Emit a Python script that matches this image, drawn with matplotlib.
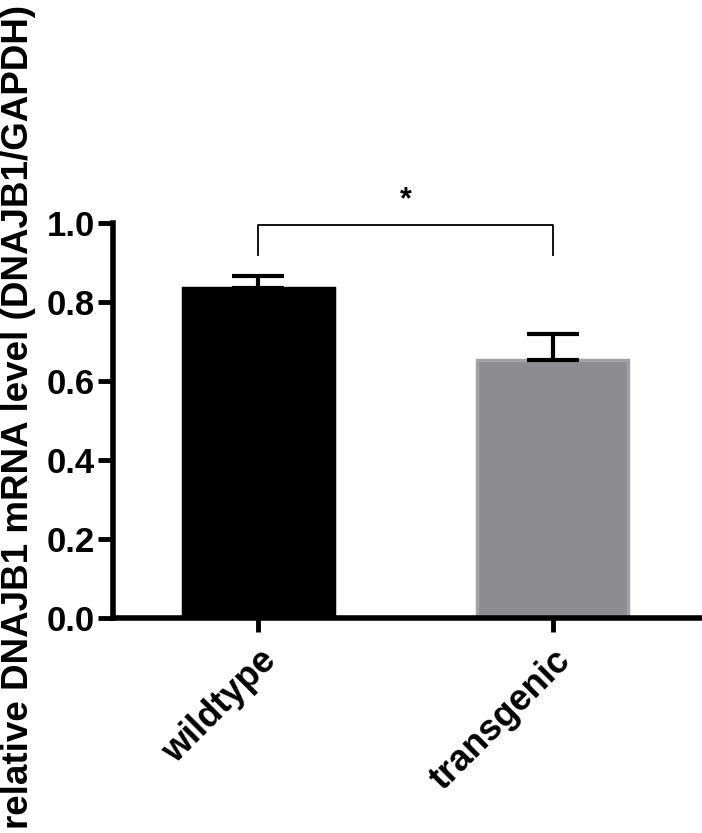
import matplotlib
matplotlib.use("Agg")
from matplotlib import pyplot as plt

# data
groups = ["wildtype", "transgenic"]
means = [0.835, 0.652]
errors = [0.032, 0.068]
colors = ["#000000", "#8d8d91"]
edges = ["#000000", "#a2a2a4"]

plt.rcParams["font.family"] = ["Liberation Sans", "DejaVu Sans"]
plt.rcParams["font.weight"] = "bold"

fig = plt.figure(figsize=(7.02, 8.33), dpi=100)
ax = fig.add_axes([0.161, 0.2581, 0.836, 0.4742])

x = range(len(groups))
ax.bar(x, means, width=0.513, color=colors, edgecolor=edges, linewidth=2.5, zorder=2)
for i in x:
    ax.errorbar(i, means[i], yerr=[[0], [errors[i]]], fmt="none", ecolor="black",
                elinewidth=3, capsize=19, capthick=3, zorder=3)

ax.set_xlim(-0.494, 1.499)
ax.set_ylim(0, 1.0)
ax.set_yticks([0.0, 0.2, 0.4, 0.6, 0.8, 1.0])
ax.set_yticklabels(["0.0", "0.2", "0.4", "0.6", "0.8", "1.0"])
ax.set_xticks(list(x))
ax.set_xticklabels(groups, rotation=45, ha="right", rotation_mode="anchor")

for s in ["top", "right"]:
    ax.spines[s].set_visible(False)
for s in ["left", "bottom"]:
    ax.spines[s].set_linewidth(4)
ax.tick_params(axis="y", length=11, width=3.5, labelsize=25, pad=2)
ax.tick_params(axis="x", length=10, width=3.5, labelsize=26, pad=8)

fig.text(0.026, 0.5, "relative DNAJB1 mRNA level (DNAJB1/GAPDH)", rotation=90,
         ha="center", va="center", fontsize=26.5, fontweight="bold")

# significance bracket
yb, yt = 0.92, 0.995
ax.plot([0, 0, 1, 1], [yb, yt, yt, yb], color="black", lw=1.3, clip_on=False)
ax.text(0.5, 1.02, "*", ha="center", va="bottom", fontsize=22, fontweight="bold")

fig.savefig("out.png", dpi=100)
